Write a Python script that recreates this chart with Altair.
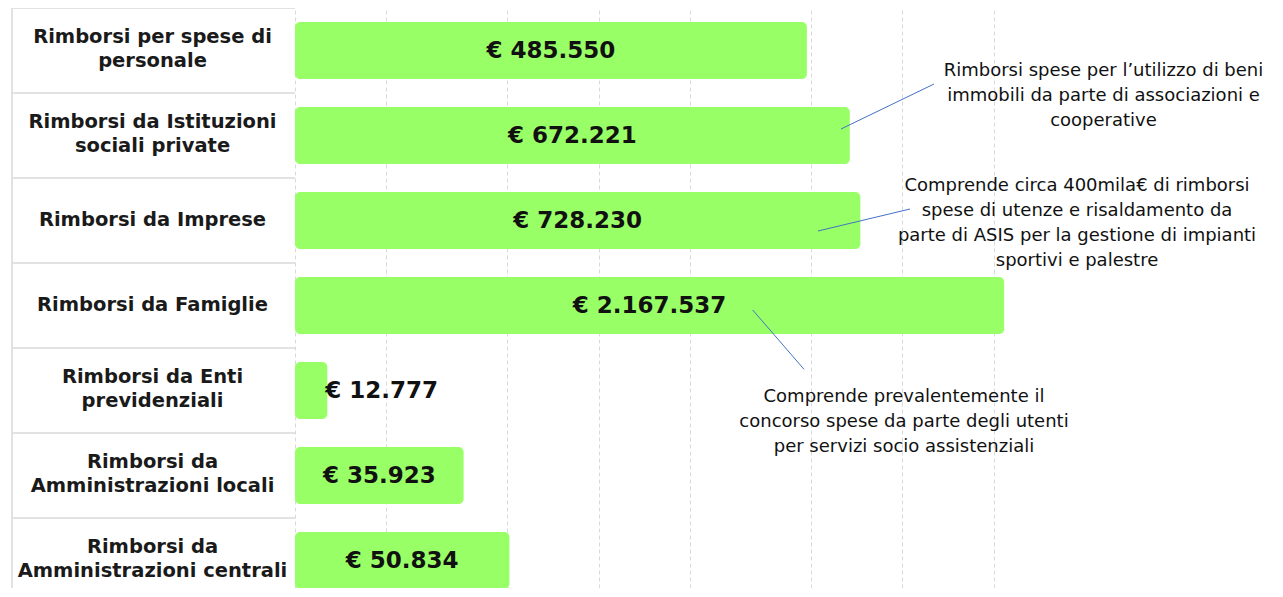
import altair as alt
import pandas as pd

# ---- data -------------------------------------------------------------
categories = [
    "Rimborsi per spese di\npersonale",
    "Rimborsi da Istituzioni\nsociali private",
    "Rimborsi da Imprese",
    "Rimborsi da Famiglie",
    "Rimborsi da Enti\nprevidenziali",
    "Rimborsi da\nAmministrazioni locali",
    "Rimborsi da\nAmministrazioni centrali",
]
values = [485550, 672221, 728230, 2167537, 12777, 35923, 50834]
grid_values = [1e4, 2e4, 5e4, 1e5, 2e5, 5e5, 1e6, 2e6]

note_famiglie = "Comprende prevalentemente il\nconcorso spese da parte degli utenti\nper servizi socio assistenziali"
note_istituzioni = "Rimborsi spese per l\u2019utilizzo di beni\nimmobili da parte di associazioni e\ncooperative"
note_imprese = "Comprende circa 400mila\u20ac di rimborsi\nspese di utenze e risaldamento da\nparte di ASIS per la gestione di impianti\nsportivi e palestre"

X_MIN, X_MAX = 1e4, 3e6


def euro(v):
    return "\u20ac " + f"{v:,}".replace(",", ".")


df = pd.DataFrame({
    "cat": categories,
    "value": values,
    "label": [euro(v) for v in values],
})

# ---- scales -----------------------------------------------------------
x_scale = alt.Scale(type="log", domain=[X_MIN, X_MAX])
y_enc = alt.Y("cat:N", sort=categories, axis=None,
              scale=alt.Scale(range=[0, 595], paddingInner=0.33, paddingOuter=0.165))

base = alt.Chart(df)

bars = base.transform_calculate(start="%f" % X_MIN).mark_bar(
    color="#99FF66", cornerRadiusEnd=5).encode(
    x=alt.X("start:Q", scale=x_scale, stack=None,
            axis=alt.Axis(values=grid_values, labels=False, ticks=False, domain=False,
                          title=None, grid=True, gridColor="#d9d9d9", gridDash=[4, 3],
                          gridWidth=1)),
    x2=alt.X2("value:Q"),
    y=y_enc,
)

inside = base.transform_filter("datum.value >= 20000").transform_calculate(
    mid="sqrt(%f * datum.value)" % X_MIN
).mark_text(font="DejaVu Sans", fontWeight="bold", fontSize=23, color="#111111",
            align="center", baseline="middle").encode(
    x=alt.X("mid:Q", scale=x_scale), y=y_enc, text="label:N")

outside = base.transform_filter("datum.value < 20000").mark_text(
    font="DejaVu Sans", fontWeight="bold", fontSize=23, color="#111111",
    align="left", baseline="middle", dx=-2).encode(
    x=alt.X("value:Q", scale=x_scale), y=y_enc, text="label:N")

label_style = dict(font="DejaVu Sans", fontWeight="bold", fontSize=19.5,
                   color="#1a1a1a", align="center", baseline="middle",
                   lineBreak="\n", lineHeight=24)

labels_one = base.transform_filter("indexof(datum.cat, '\\n') < 0").mark_text(
    dy=-1, **label_style).encode(x=alt.value(-142.5), y=y_enc, text="cat:N")
labels_two = base.transform_filter("indexof(datum.cat, '\\n') >= 0").mark_text(
    dy=-13.5, **label_style).encode(x=alt.value(-142.5), y=y_enc, text="cat:N")

row_borders = base.mark_rule(color="#e2e2e2", strokeWidth=2, yOffset=-42.5).encode(
    x=alt.value(-283), x2=alt.value(0), y=y_enc)

left_border = alt.Chart(pd.DataFrame({"a": [0]})).mark_rule(
    color="#e2e2e2", strokeWidth=2).encode(
    x=alt.value(-283), y=alt.value(0), y2=alt.value(595))


def note(text, x, y):
    return alt.Chart(pd.DataFrame({"t": [text]})).mark_text(
        font="DejaVu Sans", fontSize=18, color="#111111", align="center",
        baseline="alphabetic", lineBreak="\n", lineHeight=25).encode(
        x=alt.value(x), y=alt.value(y), text="t:N")


def leader(x1, y1, x2, y2):
    return alt.Chart(pd.DataFrame({"a": [0]})).mark_rule(
        color="#4472C4", strokeWidth=1).encode(
        x=alt.value(x1), y=alt.value(y1), x2=alt.value(x2), y2=alt.value(y2))


layers = [
    row_borders, left_border, bars, inside, outside, labels_one, labels_two,
    note(note_istituzioni, 808.5, 67.7), leader(639, 76, 546, 121),
    note(note_imprese, 782, 183), leader(615, 201, 523, 223),
    note(note_famiglie, 609, 393.7), leader(457.7, 302, 509, 361.3),
]

chart = alt.layer(*layers).properties(
    width=752, height=580,
    autosize=alt.AutoSizeParams(type="none"),
    padding={"left": 287, "top": 0, "right": 228, "bottom": 0},
).configure_view(stroke=None)

chart.save("out.html", embed_options={"renderer": "svg", "actions": False})
